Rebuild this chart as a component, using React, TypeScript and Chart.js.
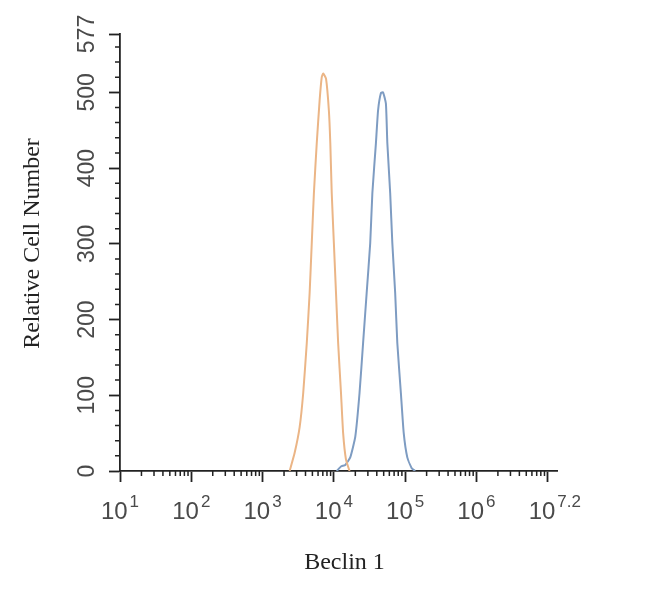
import React, { useEffect, useRef } from "react";
import { Chart, registerables } from "chart.js";

Chart.register(...registerables);

// Histogram of Beclin 1 fluorescence (x in log10 decades, y = relative cell number)
const orangeX = [3.38, 3.45, 3.52, 3.57, 3.62, 3.66, 3.69, 3.72, 3.76, 3.8, 3.83, 3.85, 3.89, 3.93, 3.95, 3.97, 4.0, 4.03, 4.06, 4.1, 4.13, 4.17, 4.22];
const orangeY = [0, 24, 58, 103, 169, 235, 301, 367, 433, 489, 520, 525, 518, 476, 433, 367, 301, 235, 169, 103, 50, 15, 0];

const blueX = [4.04, 4.1, 4.16, 4.23, 4.3, 4.36, 4.41, 4.46, 4.51, 4.54, 4.59, 4.62, 4.66, 4.69, 4.73, 4.75, 4.79, 4.82, 4.86, 4.89, 4.94, 4.98, 5.03, 5.09, 5.14];
const blueY = [0, 6, 8, 18, 45, 103, 169, 235, 301, 367, 433, 476, 499, 500, 485, 433, 367, 301, 235, 169, 103, 50, 18, 4, 0];

// x tick labels: base "10" with the exponent written as superscript
const xTickValues = [1, 2, 3, 4, 5, 6, 7];
const xTickBase = "10";
const xTickExponents = ["1", "2", "3", "4", "5", "6", "7.2"];
const yTickValues = [0, 100, 200, 300, 400, 500, 577];
const yTickLabels = ["0", "100", "200", "300", "400", "500", "577"];

const xTitle = "Beclin 1";
const yTitle = "Relative Cell Number";

const AXIS_COLOR = "#222222";
const LABEL_COLOR = "#4a4a4a";
const SANS = "'Liberation Sans', Arial, sans-serif";
const SERIF = "'Liberation Serif', 'Times New Roman', serif";

const minorTicks = {
  id: "minorTicks",
  afterDraw(chart: any) {
    const ctx = chart.ctx;
    const xs = chart.scales.x;
    const ys = chart.scales.y;
    ctx.save();
    ctx.strokeStyle = AXIS_COLOR;
    ctx.lineWidth = 1.5;
    ctx.beginPath();
    for (let d = Math.floor(xs.min); d < xs.max; d++) {
      for (let k = 2; k <= 9; k++) {
        const v = d + Math.log10(k);
        if (v > xs.max) continue;
        const px = xs.getPixelForValue(v);
        ctx.moveTo(px, xs.top);
        ctx.lineTo(px, xs.top + 5);
      }
    }
    for (let v = 20; v < ys.max; v += 20) {
      if (v % 100 === 0) continue;
      const py = ys.getPixelForValue(v);
      ctx.moveTo(ys.right, py);
      ctx.lineTo(ys.right - 5, py);
    }
    ctx.stroke();

    // x tick labels with superscript exponents
    ctx.fillStyle = LABEL_COLOR;
    ctx.textBaseline = "alphabetic";
    ctx.textAlign = "left";
    const baseFont = `24px ${SANS}`;
    const expFont = `17px ${SANS}`;
    ctx.font = baseFont;
    const wBase = ctx.measureText(xTickBase).width;
    ctx.font = expFont;
    const wOne = ctx.measureText("0").width;
    const baseY = xs.top + 48;
    const expY = xs.top + 36;
    xTickValues.forEach((v, i) => {
      const px = xs.getPixelForValue(v);
      const left = px - (wBase + 2 + wOne) / 2;
      ctx.font = baseFont;
      ctx.fillText(xTickBase, left, baseY);
      ctx.font = expFont;
      ctx.fillText(xTickExponents[i], left + wBase + 2, expY);
    });
    ctx.restore();
  },
};

export default function App() {
  const ref = useRef<HTMLCanvasElement | null>(null);

  useEffect(() => {
    if (!ref.current) return;
    const chart = new Chart(ref.current, {
      type: "line",
      data: {
        datasets: [
          {
            label: "Control",
            data: orangeX.map((x, i) => ({ x, y: orangeY[i] })),
            borderColor: "#ebb586",
            borderWidth: 2,
            pointRadius: 0,
            fill: false,
            tension: 0.15,
          },
          {
            label: "Beclin 1",
            data: blueX.map((x, i) => ({ x, y: blueY[i] })),
            borderColor: "#7e9cc2",
            borderWidth: 2,
            pointRadius: 0,
            fill: false,
            tension: 0.15,
          },
        ],
      },
      options: {
        animation: false,
        responsive: true,
        maintainAspectRatio: false,
        layout: { padding: { top: 34, right: 93, left: 0, bottom: 0 } },
        plugins: {
          legend: { display: false },
          tooltip: { enabled: false },
        },
        scales: {
          x: {
            type: "linear",
            min: 1,
            max: 7.13,
            afterBuildTicks: (s: any) => {
              s.ticks = xTickValues.map((v) => ({ value: v }));
            },
            afterFit: (s: any) => {
              s.height = 119;
            },
            grid: {
              drawOnChartArea: false,
              drawTicks: true,
              tickLength: 11,
              tickColor: AXIS_COLOR,
              tickWidth: 1.8,
            },
            border: { color: AXIS_COLOR, width: 1.8 },
            ticks: {
              display: false,
              autoSkip: false,
              maxRotation: 0,
              minRotation: 0,
            },
            title: {
              display: true,
              text: "  " + xTitle,
              color: "#222",
              font: { family: SERIF, size: 24 },
              padding: { top: 0, bottom: 13 },
            },
          },
          y: {
            type: "linear",
            min: 0,
            max: 577,
            afterBuildTicks: (s: any) => {
              s.ticks = yTickValues.map((v) => ({ value: v }));
            },
            afterFit: (s: any) => {
              s.width = 120;
            },
            grid: {
              drawOnChartArea: false,
              drawTicks: true,
              tickLength: 11,
              tickColor: AXIS_COLOR,
              tickWidth: 1.8,
            },
            border: { color: AXIS_COLOR, width: 1.8 },
            ticks: {
              autoSkip: false,
              minRotation: 90,
              maxRotation: 90,
              crossAlign: "center",
              padding: 2,
              color: LABEL_COLOR,
              font: { family: SANS, size: 23 },
              callback: (v: any) => {
                const i = yTickValues.indexOf(Number(v));
                return i >= 0 ? yTickLabels[i] : "";
              },
            },
            title: {
              display: true,
              text: "   " + yTitle,
              color: "#222",
              font: { family: SERIF, size: 24 },
              padding: { top: 18, bottom: 0 },
            },
          },
        },
      },
      plugins: [minorTicks],
    });
    return () => chart.destroy();
  }, []);

  return (
    <div style={{ position: "absolute", left: 0, top: 0, width: "650px", height: "590px", background: "#fff" }}>
      <canvas ref={ref} />
    </div>
  );
}
